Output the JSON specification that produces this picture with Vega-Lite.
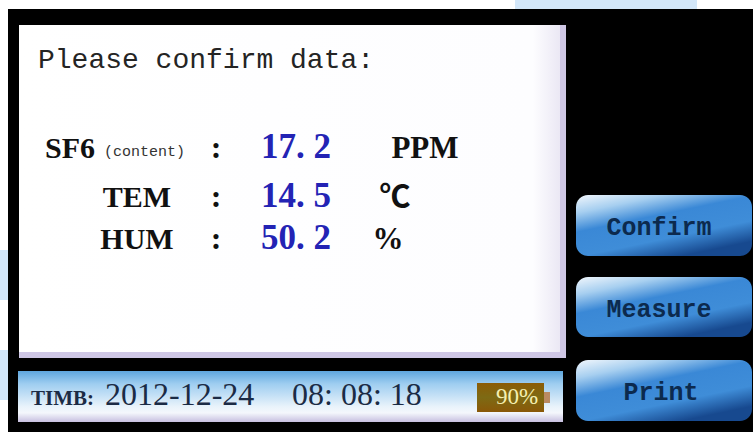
{
  "$schema": "https://vega.github.io/schema/vega-lite/v6.json",
  "width": 753,
  "height": 432,
  "padding": 0,
  "autosize": {"type": "none"},
  "background": "white",
  "config": {"view": {"stroke": null}},
  "datasets": {
    "wash": [
      {"x0": 515, "x1": 697, "y0": 0, "y1": 9},
      {"x0": 0, "x1": 8, "y0": 250, "y1": 300},
      {"x0": 0, "x1": 8, "y0": 350, "y1": 400}
    ],
    "screen": [{"x0": 8, "x1": 753, "y0": 9, "y1": 432}],
    "panelShade": [{"x0": 19, "x1": 566, "y0": 25, "y1": 358}],
    "panel": [{"x0": 19, "x1": 560, "y0": 25, "y1": 352}],
    "status": [{"x0": 18, "x1": 563, "y0": 371, "y1": 422}],
    "battery": [{"x0": 477, "x1": 544, "y0": 383, "y1": 412}],
    "stub": [{"x0": 544, "x1": 550, "y0": 392, "y1": 403}],
    "buttons": [
      {"label": "Confirm", "x0": 576, "x1": 752, "y0": 195, "y1": 256, "tx": 659, "ty": 235},
      {"label": "Measure", "x0": 576, "x1": 752, "y0": 277, "y1": 337, "tx": 659, "ty": 317},
      {"label": "Print", "x0": 576, "x1": 752, "y0": 360, "y1": 421, "tx": 661, "ty": 400}
    ],
    "title": [{"t": "Please confirm data:", "x": 38, "y": 68}],
    "labels": [
      {"t": "SF6", "x": 70, "y": 158},
      {"t": "TEM", "x": 137, "y": 207},
      {"t": "HUM", "x": 137, "y": 249}
    ],
    "sub": [{"t": "(content)", "x": 104, "y": 156}],
    "colons": [
      {"t": ":", "x": 216, "y": 158},
      {"t": ":", "x": 216, "y": 207},
      {"t": ":", "x": 216, "y": 249}
    ],
    "values": [
      {"t": "17. 2", "x": 296, "y": 158},
      {"t": "14. 5", "x": 296, "y": 207},
      {"t": "50. 2", "x": 296, "y": 249}
    ],
    "units": [
      {"t": "PPM", "x": 425, "y": 158},
      {"t": "℃", "x": 395, "y": 207},
      {"t": "%", "x": 388, "y": 249}
    ],
    "timeLabel": [{"t": "TIMB:", "x": 31, "y": 405}],
    "timeValue": [
      {"t": "2012-12-24", "x": 105, "y": 405},
      {"t": "08: 08: 18", "x": 292, "y": 405}
    ],
    "pct": [{"t": "90%", "x": 496, "y": 404}]
  },
  "layer": [
    {
      "data": {"name": "wash"},
      "mark": {"type": "rect", "fill": "#d3e7f9"},
      "encoding": {
        "x": {"field": "x0", "type": "quantitative", "scale": {"domain": [0, 753], "nice": false, "zero": false}, "axis": null},
        "x2": {"field": "x1"},
        "y": {"field": "y0", "type": "quantitative", "scale": {"domain": [0, 432], "nice": false, "zero": false, "reverse": true}, "axis": null},
        "y2": {"field": "y1"}
      }
    },
    {
      "data": {"name": "screen"},
      "mark": {"type": "rect", "fill": "#000000"},
      "encoding": {
        "x": {"field": "x0", "type": "quantitative"},
        "x2": {"field": "x1"},
        "y": {"field": "y0", "type": "quantitative"},
        "y2": {"field": "y1"}
      }
    },
    {
      "data": {"name": "panelShade"},
      "mark": {"type": "rect", "fill": "#cfc7e5"},
      "encoding": {
        "x": {"field": "x0", "type": "quantitative"},
        "x2": {"field": "x1"},
        "y": {"field": "y0", "type": "quantitative"},
        "y2": {"field": "y1"}
      }
    },
    {
      "data": {"name": "panel"},
      "mark": {"type": "rect", "fill": {"gradient": "linear", "x1": 0, "y1": 0, "x2": 1, "y2": 0, "stops": [{"offset": 0, "color": "#ffffff"}, {"offset": 0.95, "color": "#fdfdff"}, {"offset": 1, "color": "#ebe8f4"}]}},
      "encoding": {
        "x": {"field": "x0", "type": "quantitative"},
        "x2": {"field": "x1"},
        "y": {"field": "y0", "type": "quantitative"},
        "y2": {"field": "y1"}
      }
    },
    {
      "data": {"name": "status"},
      "mark": {"type": "rect", "fill": {"gradient": "linear", "x1": 0, "y1": 0, "x2": 0, "y2": 1, "stops": [{"offset": 0, "color": "#5ea6de"}, {"offset": 0.25, "color": "#9ecdf0"}, {"offset": 0.7, "color": "#e9f3fb"}, {"offset": 0.82, "color": "#f4f7fc"}, {"offset": 1, "color": "#c7bfe0"}]}},
      "encoding": {
        "x": {"field": "x0", "type": "quantitative"},
        "x2": {"field": "x1"},
        "y": {"field": "y0", "type": "quantitative"},
        "y2": {"field": "y1"}
      }
    },
    {
      "data": {"name": "battery"},
      "mark": {"type": "rect", "fill": {"gradient": "linear", "x1": 0, "y1": 0, "x2": 0, "y2": 1, "stops": [{"offset": 0, "color": "#8c5c06"}, {"offset": 0.5, "color": "#7d6a14"}, {"offset": 1, "color": "#8a5808"}]}},
      "encoding": {
        "x": {"field": "x0", "type": "quantitative"},
        "x2": {"field": "x1"},
        "y": {"field": "y0", "type": "quantitative"},
        "y2": {"field": "y1"}
      }
    },
    {
      "data": {"name": "stub"},
      "mark": {"type": "rect", "fill": "#b98a62"},
      "encoding": {
        "x": {"field": "x0", "type": "quantitative"},
        "x2": {"field": "x1"},
        "y": {"field": "y0", "type": "quantitative"},
        "y2": {"field": "y1"}
      }
    },
    {
      "data": {"name": "buttons"},
      "mark": {"type": "rect", "cornerRadius": 12, "fill": {"gradient": "linear", "x1": 0, "y1": 0, "x2": 0.6, "y2": 1, "stops": [{"offset": 0, "color": "#f2f7fc"}, {"offset": 0.22, "color": "#a7cff0"}, {"offset": 0.45, "color": "#3a88d6"}, {"offset": 0.75, "color": "#3f8dd8"}, {"offset": 1, "color": "#17498f"}]}},
      "encoding": {
        "x": {"field": "x0", "type": "quantitative"},
        "x2": {"field": "x1"},
        "y": {"field": "y0", "type": "quantitative"},
        "y2": {"field": "y1"}
      }
    },
    {
      "data": {"name": "buttons"},
      "mark": {"type": "text", "font": "Liberation Mono", "fontSize": 25, "fontWeight": "bold", "align": "center", "baseline": "alphabetic", "fill": "#0c2a4e"},
      "encoding": {
        "x": {"field": "tx", "type": "quantitative"},
        "y": {"field": "ty", "type": "quantitative"},
        "text": {"field": "label"}
      }
    },
    {
      "data": {"name": "title"},
      "mark": {"type": "text", "font": "Liberation Mono", "fontSize": 28, "align": "left", "baseline": "alphabetic", "fill": "#242424"},
      "encoding": {
        "x": {"field": "x", "type": "quantitative"},
        "y": {"field": "y", "type": "quantitative"},
        "text": {"field": "t"}
      }
    },
    {
      "data": {"name": "labels"},
      "mark": {"type": "text", "font": "Liberation Serif", "fontSize": 30, "fontWeight": "bold", "align": "center", "baseline": "alphabetic", "fill": "#111111"},
      "encoding": {
        "x": {"field": "x", "type": "quantitative"},
        "y": {"field": "y", "type": "quantitative"},
        "text": {"field": "t"}
      }
    },
    {
      "data": {"name": "sub"},
      "mark": {"type": "text", "font": "Liberation Mono", "fontSize": 15, "align": "left", "baseline": "alphabetic", "fill": "#333333"},
      "encoding": {
        "x": {"field": "x", "type": "quantitative"},
        "y": {"field": "y", "type": "quantitative"},
        "text": {"field": "t"}
      }
    },
    {
      "data": {"name": "colons"},
      "mark": {"type": "text", "font": "Liberation Serif", "fontSize": 32, "fontWeight": "bold", "align": "center", "baseline": "alphabetic", "fill": "#111111"},
      "encoding": {
        "x": {"field": "x", "type": "quantitative"},
        "y": {"field": "y", "type": "quantitative"},
        "text": {"field": "t"}
      }
    },
    {
      "data": {"name": "values"},
      "mark": {"type": "text", "font": "Liberation Serif", "fontSize": 35, "fontWeight": "bold", "align": "center", "baseline": "alphabetic", "fill": "#2323b4"},
      "encoding": {
        "x": {"field": "x", "type": "quantitative"},
        "y": {"field": "y", "type": "quantitative"},
        "text": {"field": "t"}
      }
    },
    {
      "data": {"name": "units"},
      "mark": {"type": "text", "font": "Liberation Serif, Noto Sans CJK SC", "fontSize": 31, "fontWeight": "bold", "align": "center", "baseline": "alphabetic", "fill": "#111111"},
      "encoding": {
        "x": {"field": "x", "type": "quantitative"},
        "y": {"field": "y", "type": "quantitative"},
        "text": {"field": "t"}
      }
    },
    {
      "data": {"name": "timeLabel"},
      "mark": {"type": "text", "font": "Liberation Serif", "fontSize": 21, "fontWeight": "bold", "align": "left", "baseline": "alphabetic", "fill": "#1b2b45"},
      "encoding": {
        "x": {"field": "x", "type": "quantitative"},
        "y": {"field": "y", "type": "quantitative"},
        "text": {"field": "t"}
      }
    },
    {
      "data": {"name": "timeValue"},
      "mark": {"type": "text", "font": "Liberation Serif", "fontSize": 32, "align": "left", "baseline": "alphabetic", "fill": "#1b2b45"},
      "encoding": {
        "x": {"field": "x", "type": "quantitative"},
        "y": {"field": "y", "type": "quantitative"},
        "text": {"field": "t"}
      }
    },
    {
      "data": {"name": "pct"},
      "mark": {"type": "text", "font": "Liberation Serif", "fontSize": 23, "align": "left", "baseline": "alphabetic", "fill": "#f5efb0"},
      "encoding": {
        "x": {"field": "x", "type": "quantitative"},
        "y": {"field": "y", "type": "quantitative"},
        "text": {"field": "t"}
      }
    }
  ]
}
